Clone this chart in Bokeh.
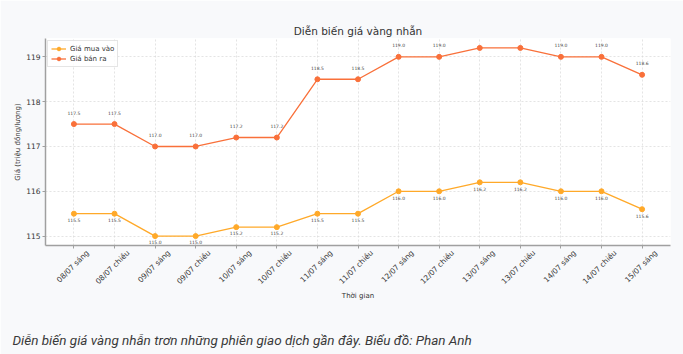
from math import pi
from bokeh.plotting import figure
from bokeh.models import (FixedTicker, ColumnDataSource, Label, Range1d, LinearAxis,
                          BoxAnnotation, Legend)
from bokeh.core.properties import value
from bokeh.embed import file_html
from bokeh.resources import INLINE

categories = ["08/07 sáng", "08/07 chiều", "09/07 sáng", "09/07 chiều", "10/07 sáng",
              "10/07 chiều", "11/07 sáng", "11/07 chiều", "12/07 sáng", "12/07 chiều",
              "13/07 sáng", "13/07 chiều", "14/07 sáng", "14/07 chiều", "15/07 sáng"]
buy = [115.5, 115.5, 115.0, 115.0, 115.2, 115.2, 115.5, 115.5, 116.0, 116.0,
       116.2, 116.2, 116.0, 116.0, 115.6]
sell = [117.5, 117.5, 117.0, 117.0, 117.2, 117.2, 118.5, 118.5, 119.0, 119.0,
        119.2, 119.2, 119.0, 119.0, 118.6]
y_ticks = [115, 116, 117, 118, 119]

title_text = "Diễn biến giá vàng nhẫn"
x_label = "Thời gian"
y_label = "Giá (triệu đồng/lượng)"
buy_name = "Giá mua vào"
sell_name = "Giá bán ra"
caption = "Diễn biến giá vàng nhẫn trơn những phiên giao dịch gần đây. Biểu đồ: Phan Anh"

BUY_C = "#FFA929"
SELL_C = "#F9703A"
FONT = "DejaVu Sans"
TXT = "#333333"
LABEL_SHIFT = 0.34  # rotated labels are centred on their tick (matplotlib style)

idx = list(range(len(categories)))
src = ColumnDataSource(dict(
    x=idx, cat=categories, buy=buy, sell=sell,
    buy_txt=[f"{v:.1f}" for v in buy], sell_txt=[f"{v:.1f}" for v in sell],
))

n = len(categories) - 1
ymin, ymax = min(buy), max(sell)
p = figure(width=683, height=354, output_backend="svg", toolbar_location=None,
           x_range=Range1d(-0.05 * n, n + 0.05 * n),
           y_range=Range1d(ymin - 0.05 * (ymax - ymin), ymax + 0.05 * (ymax - ymin)),
           min_border_left=45, min_border_right=13, min_border_top=38, min_border_bottom=109,
           border_fill_color="#F8F9FB", background_fill_color="white", outline_line_color=None)

p.title.text = title_text
p.title.align = "center"
p.title.text_font = FONT
p.title.text_font_size = "10.5px"
p.title.text_font_style = "normal"
p.title.text_color = TXT
p.title.standoff = 4

# label axis for the categories (added right after the default tick axis)
lab_axis = LinearAxis(ticker=FixedTicker(ticks=[i + LABEL_SHIFT for i in idx]),
                      major_label_overrides={i + LABEL_SHIFT: c for i, c in zip(idx, categories)})
p.add_layout(lab_axis, "below")

for ax in (p.xaxis[0], p.yaxis[0], lab_axis):
    ax.axis_line_color = "#A0A0A0"
    ax.axis_line_width = 1.5
    ax.major_tick_line_color = "#A0A0A0"
    ax.major_tick_out = 3
    ax.major_tick_in = 0
    ax.minor_tick_line_color = None
    ax.axis_label_text_font = FONT
    ax.axis_label_text_font_size = "7px"
    ax.axis_label_text_font_style = "normal"
    ax.axis_label_text_color = TXT
    ax.major_label_text_font = FONT
    ax.major_label_text_font_size = "7.5px"
    ax.major_label_text_color = TXT

tick_axis = p.xaxis[0]
tick_axis.ticker = FixedTicker(ticks=idx)
tick_axis.major_label_text_color = None
tick_axis.major_label_text_font_size = "1px"
tick_axis.major_label_standoff = 0

lab_axis.axis_line_color = None
lab_axis.major_tick_line_color = None
lab_axis.major_tick_out = 0
lab_axis.major_label_orientation = pi / 4
lab_axis.major_label_standoff = 3
lab_axis.axis_label = x_label
lab_axis.axis_label_standoff = 0

p.yaxis.ticker = FixedTicker(ticks=y_ticks)
p.yaxis.major_label_standoff = 2
p.yaxis.axis_label = y_label
p.yaxis.axis_label_standoff = 1

p.xgrid.ticker = FixedTicker(ticks=idx)
for g in (p.xgrid[0], p.ygrid[0]):
    g.grid_line_color = "#D8D8D8"
    g.grid_line_dash = "2 2"
    g.grid_line_width = 0.7

lb = p.line("x", "buy", source=src, color=BUY_C, line_width=1.3)
sb = p.scatter("x", "buy", source=src, color=BUY_C, size=5)
ls = p.line("x", "sell", source=src, color=SELL_C, line_width=1.3)
ss = p.scatter("x", "sell", source=src, color=SELL_C, size=5)

p.text("x", "sell", text="sell_txt", source=src, text_font=value(FONT), text_font_size="4.5px",
       text_color="#444444", text_align="center", text_baseline="middle", y_offset=-11.5)
p.text("x", "buy", text="buy_txt", source=src, text_font=value(FONT), text_font_size="4.5px",
       text_color="#444444", text_align="center", text_baseline="middle", y_offset=6.3)

legend = Legend(items=[(buy_name, [lb, sb]), (sell_name, [ls, ss])], location="top_left")
legend.label_text_font = FONT
legend.label_text_font_size = "7px"
legend.label_text_color = TXT
legend.border_line_color = "#CCCCCC"
legend.border_line_width = 0.8
legend.background_fill_alpha = 0.85
legend.glyph_height = 9
legend.glyph_width = 15
legend.label_height = 9
legend.label_standoff = 4
legend.padding = 3
legend.spacing = 1
legend.margin = 2
p.add_layout(legend, "center")

card = BoxAnnotation(left=10, right=670, top=3, bottom=318,
                     left_units="canvas", right_units="canvas",
                     top_units="canvas", bottom_units="canvas",
                     fill_color="white", fill_alpha=1.0, line_color=None, level="image")
p.add_layout(card, "below")

cap = Label(x=12, y=339.5, x_units="canvas", y_units="canvas", text=caption,
            text_font="Roboto", text_font_size="13.5px",
            text_font_style="italic", text_color="#3A3A3A", text_baseline="alphabetic")
p.add_layout(cap, "below")

open("out.html", "w").write(file_html(p, INLINE))
